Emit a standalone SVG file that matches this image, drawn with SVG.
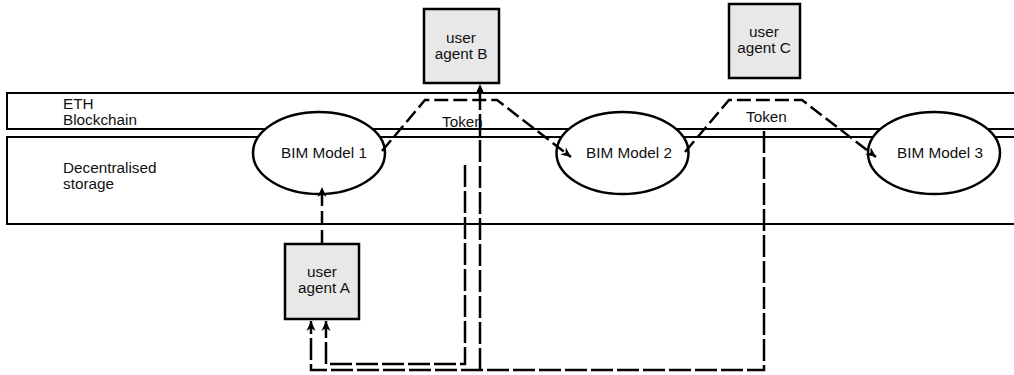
<svg xmlns="http://www.w3.org/2000/svg" width="1014" height="375" viewBox="0 0 1014 375">
<style>
  text { font-family: "Liberation Sans", Arial, sans-serif; font-size: 15.3px; fill: #111; }
  .band { fill: none; stroke: #000; stroke-width: 2; }
  .node { fill: #fff; stroke: #000; stroke-width: 2.5; }
  .agent { fill: #e8e8e8; stroke: #000; stroke-width: 2.5; }
  .conn { fill: none; stroke: #000; stroke-width: 2.5; stroke-dasharray: 14 5; }
  .long { stroke-dasharray: 22 4; }
  .mid { text-anchor: middle; }
</style>
<defs>
  <marker id="arr" viewBox="0 0 10 10" refX="10" refY="5" markerWidth="10" markerHeight="10" markerUnits="userSpaceOnUse" orient="auto">
    <path d="M0,0.5 L10,5 L0,9.5 L3,5 z" fill="#000"/>
  </marker>
</defs>
<rect width="1014" height="375" fill="#fff"/>
<g id="eth-band">
  <rect class="band" x="7" y="93" width="1020" height="36"/>
  <text x="63" y="109">ETH</text>
  <text x="63" y="125">Blockchain</text>
</g>
<g id="storage-band">
  <rect class="band" x="7" y="137" width="1020" height="87"/>
  <text x="63" y="173">Decentralised</text>
  <text x="63" y="189">storage</text>
</g>
<g id="bim1">
  <ellipse class="node" cx="319" cy="153" rx="66" ry="41"/>
  <text class="mid" x="324" y="158">BIM Model 1</text>
</g>
<g id="bim2">
  <ellipse class="node" cx="622.5" cy="153" rx="66" ry="41"/>
  <text class="mid" x="629" y="158">BIM Model 2</text>
</g>
<g id="bim3">
  <ellipse class="node" cx="934" cy="153" rx="66" ry="41"/>
  <text class="mid" x="940" y="158">BIM Model 3</text>
</g>
<g id="agentB">
  <rect class="agent" x="424" y="9" width="75" height="74"/>
  <text class="mid" x="461" y="43">user</text>
  <text class="mid" x="461" y="59">agent B</text>
</g>
<g id="agentC">
  <rect class="agent" x="729" y="4" width="71" height="74"/>
  <text class="mid" x="764" y="37">user</text>
  <text class="mid" x="764" y="53">agent C</text>
</g>
<g id="agentA">
  <rect class="agent" x="285" y="244" width="74" height="75"/>
  <text class="mid" x="322" y="277">user</text>
  <text class="mid" x="324" y="293">agent A</text>
</g>
<g id="connectors">
  <path class="conn" d="M322,244 V187" marker-end="url(#arr)"/>
  <path class="conn" d="M382,151 L425,100 L497,100 L571,157" marker-end="url(#arr)"/>
  <path class="conn" d="M685,152 L729,100 L802,100 L876,157" marker-end="url(#arr)"/>
  <path class="conn long" d="M764,131 V370 H311 V321" marker-end="url(#arr)"/>
  <path class="conn long" d="M480,370 V84" marker-end="url(#arr)"/>
  <path class="conn long" d="M465,165 V364 H326 V321" marker-end="url(#arr)"/>
</g>
<g id="labels">
  <text x="442" y="127">Token</text>
  <text x="746" y="122">Token</text>
</g>
</svg>
